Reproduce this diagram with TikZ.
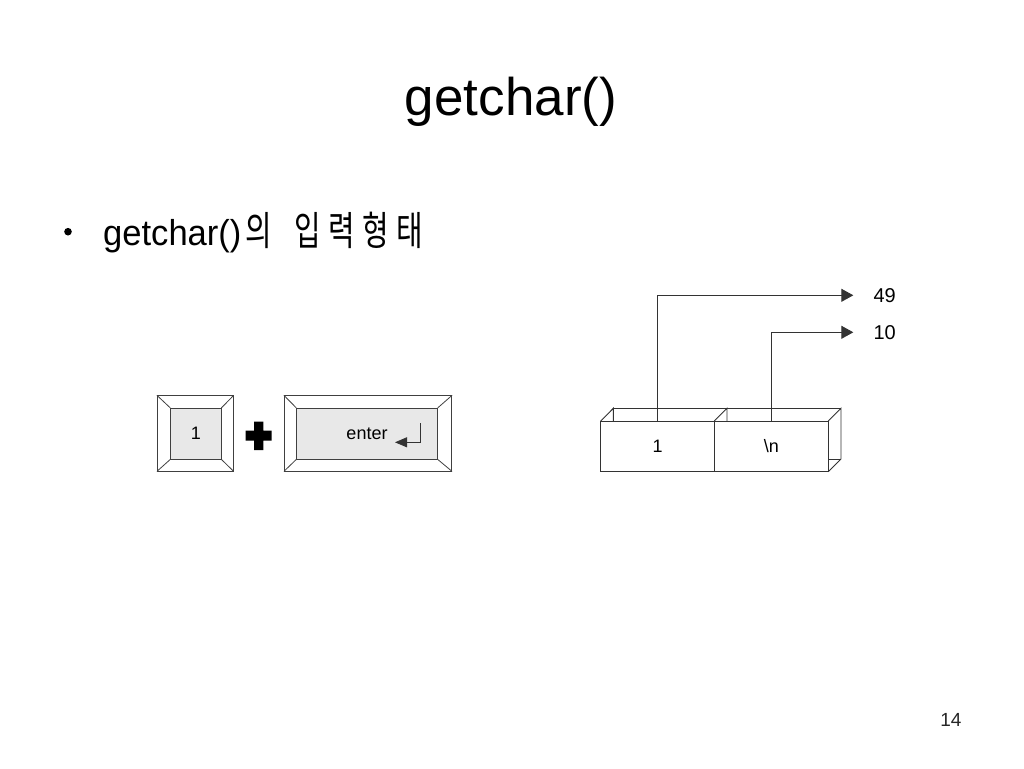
\documentclass[tikz,border=0pt]{standalone}
\usepackage{fontspec}
\setmainfont{Liberation Sans}
\newfontfamily\kr{Noto Sans CJK KR}
\usepackage{graphicx}
\usetikzlibrary{arrows.meta}
\newcommand\hgsyl[1]{\makebox[34pt]{\scalebox{0.72}[1]{\kr\fontsize{40}{44}\selectfont #1}}}
\begin{document}
\begin{tikzpicture}[x=1pt,y=-1pt,
  edge/.style={draw=black!80, line width=0.9pt},
  keyout/.style={draw=black!75, line width=0.8pt, fill=white, inner sep=0pt},
  keyin/.style={draw=black!75, line width=0.8pt, fill=black!9, inner sep=0pt, font=\fontsize{18}{20}\selectfont},
  cell/.style={draw=black!80, line width=0.9pt, fill=white, inner sep=0pt, font=\fontsize{18}{20}\selectfont},
  lbl/.style={font=\fontsize{20}{22}\selectfont, inner sep=0pt},
  ptr/.style={edge, -{Triangle[length=12pt,width=13pt]}},
]
\useasboundingbox[fill=white] (0,0) rectangle (1024,768);

% title
\node[anchor=base, inner sep=0pt, font=\fontsize{53}{60}\selectfont] (title) at (511,115.7) {getchar()};

% bullet
\fill (68,231.7) circle (3.8);
\node[anchor=base west, inner sep=0pt, font=\fontsize{36}{40}\selectfont] (bt) at (103,245)
  {\scalebox{0.96}[1]{getchar()}\hgsyl{의}\hskip15pt\hgsyl{입}\hgsyl{력}\hgsyl{형}\hgsyl{태}};

% key 1
\node[keyout, minimum width=76pt, minimum height=75.3pt] (k1o) at (195.3,433.35) {};
\node[keyin, minimum width=50.3pt, minimum height=50.7pt] (k1) at (195.85,433.65) {1};
\foreach \c in {north west, north east, south west, south east}
  \draw[draw=black!75, line width=0.8pt] (k1o.\c) -- (k1.\c);

% plus
\fill (245.7,430.7) -- (254,430.7) -- (254,421.7) -- (263.3,421.7) -- (263.3,430.7)
  -- (271.7,430.7) -- (271.7,440.7) -- (263.3,440.7) -- (263.3,450) -- (254,450)
  -- (254,440.7) -- (245.7,440.7) -- cycle;

% enter key
\node[keyout, minimum width=167.4pt, minimum height=75.3pt] (eo) at (368,433.35) {};
\node[keyin, minimum width=140.6pt, minimum height=50.7pt] (e) at (367,433.65) {enter};
\foreach \c in {north west, north east, south west, south east}
  \draw[draw=black!75, line width=0.8pt] (eo.\c) -- (e.\c);
\coordinate (rt) at (420.7,423.3);
\coordinate (rb) at (420.7,442.3);
\coordinate (rh) at (395,442.3);
\draw[draw=black!80, line width=0.8pt, -{Triangle[length=12pt,width=10pt]}] (rt) -- (rb) -- (rh);

% memory cells: back edges
\draw[edge] (613.3,408.3) -- (841,408.3);
\draw[edge] (600.7,421) -- (613.3,408.3) -- (613.3,421);
\draw[edge] (714.3,421) -- (727,408.3) -- (727,421);
\draw[edge] (828.3,421) -- (841,408.3) -- (841,459) -- (828.3,471.7);
\draw[edge] (828.3,459) -- (841,459);
\node[cell, minimum width=113.6pt, minimum height=50.7pt] (b1) at (657.5,446.35) {1};
\node[cell, minimum width=114pt, minimum height=50.7pt] (b2) at (771.3,446.35) {\textbackslash n};

% pointers
\coordinate (t49) at (853.3,295.3);
\coordinate (t10) at (853.3,332.3);
\node[lbl] (l49) at (884.7,295.5) {49};
\node[lbl] (l10) at (884.7,332.2) {10};
\draw[ptr] (b1.north) |- (t49);
\draw[ptr] (b2.north) |- (t10);

% page number
\node[anchor=base east, inner sep=0pt, font=\fontsize{19}{21}\selectfont, text=black!85] (pg) at (961.7,726) {14};
\end{tikzpicture}
\end{document}
